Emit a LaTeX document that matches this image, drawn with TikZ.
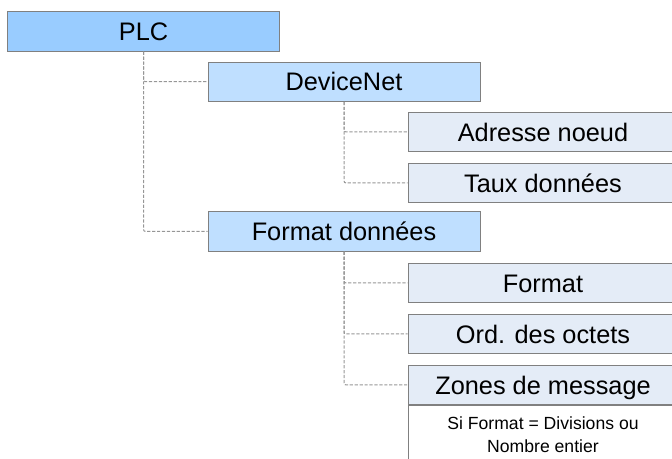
\documentclass[tikz,border=0pt]{standalone}
\usepackage{fontspec}
\setmainfont{Liberation Sans}
\usepackage{xcolor}
\definecolor{topblue}{RGB}{153, 204, 255}
\definecolor{midblue}{RGB}{191, 223, 255}
\definecolor{leafgray}{RGB}{228, 236, 247}
\definecolor{frame}{RGB}{128, 128, 128}
\definecolor{linkgray}{RGB}{150, 150, 150}
\usetikzlibrary{positioning}

\begin{document}
\begin{tikzpicture}[
  x=0.75pt, y=-0.75pt,
  node distance = 8pt,
  every node/.style = {font=\fontsize{19}{23}\selectfont},
  % box styles
  menubox/.style = {rectangle, draw=frame, line width=0.75pt, inner sep=0pt,
                    text height=13.6pt, text depth=0pt, minimum height=29.5pt},
  lvlone/.style   = {menubox, fill=topblue, minimum width=203.5pt},
  lvltwo/.style   = {menubox, fill=midblue, minimum width=204pt},
  lvlthree/.style = {menubox, fill=leafgray, minimum width=202.5pt},
  note/.style     = {rectangle, draw=frame, line width=0.75pt, fill=white,
                     minimum width=202.5pt, minimum height=44pt, align=center,
                     font=\fontsize{13.2}{17.3}\selectfont},
  % connector style
  link/.style = {draw=linkgray, line width=0.75pt, dash pattern=on 2.4pt off 1.3pt,
                 rounded corners=1.5pt},
]
\useasboundingbox (0,0) rectangle (672,459);

%% Level 1
\node[lvlone] (plc) at (143.5,31.5) {PLC};

%% Level 2
\node[lvltwo] (devnet) at (344,81.7)  {DeviceNet};
\node[lvltwo] (fmtdon) at (344,231.5) {Format données};

%% Level 3: DeviceNet
\node[lvlthree] (addr) at (543,132) {Adresse noeud};
\node[lvlthree, below=of addr] (taux) {Taux données};

%% Level 3: Format données
\node[lvlthree] (fmt) at (543,283) {Format};
\node[lvlthree, below=of fmt] (ord)   {Ord. des octets};
\node[lvlthree, below=of ord] (zones) {Zones de message};
\node[note, below=0pt of zones] (cond) {Si Format = Divisions ou\\Nombre entier};

%% Tree links
\draw[link] (plc.south)    |- (devnet.west);
\draw[link] (plc.south)    |- (fmtdon.west);
\draw[link] (devnet.south) |- (addr.west);
\draw[link] (devnet.south) |- (taux.west);
\draw[link] (fmtdon.south) |- (fmt.west);
\draw[link] (fmtdon.south) |- (ord.west);
\draw[link] (fmtdon.south) |- (zones.west);

\end{tikzpicture}
\end{document}
